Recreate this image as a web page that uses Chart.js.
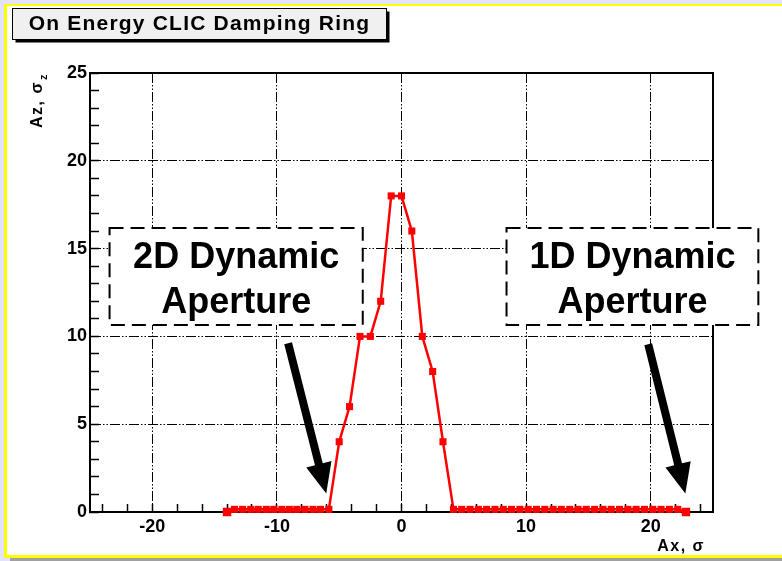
<!DOCTYPE html>
<html>
<head>
<meta charset="utf-8">
<title>On Energy CLIC Damping Ring</title>
<script src="https://cdn.jsdelivr.net/npm/chart.js@4/dist/chart.umd.min.js"></script>
<style>
  html, body { margin: 0; padding: 0; background: #ffffff; }
  #wrap { width: 782px; height: 561px; }
</style>
</head>
<body>
<div id="wrap"><canvas id="c" width="782" height="561"></canvas></div>
<script>
// Horizontal amplitude (Ax, in sigma) of each tracked particle
const axValues = [
  -14, -13.4, -12.75, -12.1, -11.5, -10.85, -10.25, -9.6, -9.0, -8.4, -7.75, -7.1, -6.5, -5.83,
  -5.0, -4.17, -3.33, -2.5, -1.67, -0.83, 0, 0.83, 1.67, 2.5, 3.33,
  4.17, 4.83, 5.5, 6.17, 6.83, 7.5, 8.17, 8.83, 9.5, 10.17, 10.83, 11.5, 12.17, 12.83,
  13.5, 14.17, 14.83, 15.5, 16.17, 16.83, 17.5, 18.17, 18.83, 19.5, 20.17, 20.83,
  21.5, 22.17, 22.83
];
// Surviving vertical amplitude (Az, in sigma_z) at each Ax
const azValues = [
  0, 0.15, 0.15, 0.15, 0.15, 0.15, 0.15, 0.15, 0.15, 0.15, 0.15, 0.15, 0.15, 0.15,
  4, 6, 10, 10, 12, 18, 18, 16, 10, 8, 4,
  0.15, 0.15, 0.15, 0.15, 0.15, 0.15, 0.15, 0.15, 0.15, 0.15, 0.15, 0.15, 0.15, 0.15,
  0.15, 0.15, 0.15, 0.15, 0.15, 0.15, 0.15, 0.15, 0.15, 0.15, 0.15, 0.15,
  0.15, 0.15, 0
];
// Axis ranges, labelled ticks and minor tick spacing
const xRange = [-25, 25];
const yRange = [0, 25];
const xTickLabels = [-20, -10, 0, 10, 20];
const yTickLabels = [0, 5, 10, 15, 20, 25];
const xMinorEvery = 2;
const yMinorEvery = 1;

const chartTitle = 'On Energy CLIC Damping Ring';
const xTitle = 'Ax, \u03c3';
const yTitle = 'Az, \u03c3';
const yTitleSub = 'z';

// Callout boxes and arrows, placed in data coordinates
const callouts = [
  { lines: ['2D Dynamic', 'Aperture'], box: [-23.43, 16.17, -3.11, 10.65], tail: [-9.1, 9.61], tip: [-6.04, 1.06] },
  { lines: ['1D Dynamic', 'Aperture'], box: [8.43, 16.17, 28.64, 10.65], tail: [19.8, 9.55], tip: [22.78, 1.06] }
];

const FONT = "'Liberation Sans', Arial, Helvetica, sans-serif";
const gridDash = [10, 2, 1.5, 2, 1.5, 2];

const points = axValues.map((x, i) => ({ x: x, y: azValues[i] }));
const lastIdx = points.length - 1;

// Canvas frame, title box and axis titles
const framePlugin = {
  id: 'frame',
  beforeDraw(chart) {
    const ctx = chart.ctx;
    ctx.save();
    ctx.fillStyle = '#e2e2fa';
    ctx.fillRect(0, 0, 782, 561);
    ctx.fillStyle = '#ffffff';
    ctx.fillRect(4, 4, 778, 553);
    ctx.fillStyle = '#ffff00';
    ctx.fillRect(4, 4, 778, 2);
    ctx.fillRect(4, 4, 3, 554);
    ctx.fillRect(4, 555, 778, 3);
    ctx.fillStyle = '#a0a0a0';
    ctx.fillRect(10, 558, 772, 3);
    ctx.restore();
  },
  afterDraw(chart) {
    const ctx = chart.ctx;
    ctx.save();
    // title box with shadow
    const bx = 12.5, by = 8.5, bw = 374, bh = 31;
    ctx.fillStyle = '#000000';
    ctx.fillRect(bx + 3, by + 3, bw, bh);
    ctx.fillStyle = '#f0f0f0';
    ctx.fillRect(bx, by, bw, bh);
    ctx.strokeStyle = '#000000';
    ctx.lineWidth = 1;
    ctx.strokeRect(bx, by, bw, bh);
    ctx.fillStyle = '#000000';
    ctx.font = 'bold 21px ' + FONT;
    ctx.textAlign = 'center';
    ctx.textBaseline = 'alphabetic';
    ctx.letterSpacing = '1.2px';
    ctx.fillText(chartTitle, bx + bw / 2, 29.5);

    // x axis title
    ctx.font = 'bold 16px ' + FONT;
    ctx.letterSpacing = '1.5px';
    ctx.textAlign = 'right';
    ctx.fillText(xTitle, 705, 551);

    // y axis title, rotated, with subscript
    ctx.save();
    ctx.translate(42, 128);
    ctx.rotate(-Math.PI / 2);
    ctx.textAlign = 'left';
    ctx.font = 'bold 16px ' + FONT;
    ctx.fillText(yTitle, 0, 0);
    const w = ctx.measureText(yTitle).width;
    ctx.font = 'bold 11px ' + FONT;
    ctx.fillText(yTitleSub, w + 1, 5);
    ctx.restore();
    ctx.letterSpacing = '0px';
    ctx.restore();
  }
};

// Dashed callout boxes with arrows pointing at the aperture edges
const calloutPlugin = {
  id: 'callouts',
  afterDraw(chart) {
    const ctx = chart.ctx;
    const xs = chart.scales.x, ys = chart.scales.y;
    ctx.save();
    callouts.forEach(c => {
      const x1 = xs.getPixelForValue(c.box[0]);
      const y1 = ys.getPixelForValue(c.box[1]);
      const x2 = xs.getPixelForValue(c.box[2]);
      const y2 = ys.getPixelForValue(c.box[3]);
      ctx.fillStyle = '#ffffff';
      ctx.fillRect(x1, y1, x2 - x1, y2 - y1);
      ctx.setLineDash([14, 7]);
      ctx.lineWidth = 2;
      ctx.strokeStyle = '#000000';
      ctx.strokeRect(x1, y1, x2 - x1, y2 - y1);
      ctx.setLineDash([]);
      ctx.fillStyle = '#000000';
      ctx.font = 'bold 36px ' + FONT;
      ctx.textAlign = 'center';
      ctx.textBaseline = 'alphabetic';
      const cx = (x1 + x2) / 2;
      ctx.fillText(c.lines[0], cx, y1 + 40);
      ctx.fillText(c.lines[1], cx, y1 + 85);

      // arrow
      const tx = xs.getPixelForValue(c.tail[0]), ty = ys.getPixelForValue(c.tail[1]);
      const hx = xs.getPixelForValue(c.tip[0]), hy = ys.getPixelForValue(c.tip[1]);
      const ang = Math.atan2(hy - ty, hx - tx);
      const len = Math.hypot(hx - tx, hy - ty);
      const headLen = 30, headHalf = 13, shaftHalf = 4;
      ctx.save();
      ctx.translate(tx, ty);
      ctx.rotate(ang);
      ctx.beginPath();
      ctx.moveTo(0, -shaftHalf);
      ctx.lineTo(len - headLen, -shaftHalf);
      ctx.lineTo(len - headLen, -headHalf);
      ctx.lineTo(len, 0);
      ctx.lineTo(len - headLen, headHalf);
      ctx.lineTo(len - headLen, shaftHalf);
      ctx.lineTo(0, shaftHalf);
      ctx.closePath();
      ctx.fill();
      ctx.restore();
    });
    ctx.restore();
  }
};

const isMinor = (v, every) => Math.abs(v % every) < 1e-9;
const tickMarkColor = every => ctx => (ctx.tick && isMinor(ctx.tick.value, every)) ? '#000000' : 'rgba(0,0,0,0)';

new Chart(document.getElementById('c'), {
  type: 'line',
  data: {
    datasets: [{
      data: points,
      borderColor: '#ff0000',
      backgroundColor: '#ff0000',
      borderWidth: 2.5,
      tension: 0,
      pointStyle: 'rect',
      pointRadius: points.map((p, i) => (i === 0 || i === lastIdx) ? 6 : 5),
      pointBorderWidth: 0,
      pointBackgroundColor: '#ff0000',
      clip: false
    }]
  },
  options: {
    responsive: false,
    animation: false,
    devicePixelRatio: 1,
    layout: { padding: { top: 73, right: 69, left: 0, bottom: 0 } },
    plugins: { legend: { display: false }, tooltip: { enabled: false }, title: { display: false } },
    scales: {
      x: {
        type: 'linear',
        position: 'bottom',
        min: xRange[0],
        max: xRange[1],
        afterFit(scale) { scale.height = 49; },
        ticks: {
          stepSize: 1,
          autoSkip: false,
          maxRotation: 0,
          padding: 12,
          color: '#000000',
          font: { family: FONT, size: 18, weight: 'bold' },
          callback: v => xTickLabels.includes(v) ? String(v) : ''
        },
        grid: {
          color: ctx => (ctx.tick && xTickLabels.includes(ctx.tick.value)) ? '#000000' : 'rgba(0,0,0,0)',
          lineWidth: 1,
          drawTicks: true,
          tickLength: -8,
          tickColor: tickMarkColor(xMinorEvery),
          tickWidth: 1.5,
          tickBorderDash: []
        },
        border: { display: true, color: '#000000', width: 2, dash: gridDash }
      },
      y: {
        type: 'linear',
        position: 'left',
        min: yRange[0],
        max: yRange[1],
        afterFit(scale) { scale.width = 90; },
        ticks: {
          stepSize: 1,
          autoSkip: false,
          padding: 12,
          color: '#000000',
          font: { family: FONT, size: 18, weight: 'bold' },
          callback: v => yTickLabels.includes(v) ? String(v) : ''
        },
        grid: {
          color: ctx => (ctx.tick && yTickLabels.includes(ctx.tick.value)) ? '#000000' : 'rgba(0,0,0,0)',
          lineWidth: 1,
          drawTicks: true,
          tickLength: -9,
          tickColor: tickMarkColor(yMinorEvery),
          tickWidth: 1.5,
          tickBorderDash: []
        },
        border: { display: true, color: '#000000', width: 2, dash: gridDash }
      },
      xTop: {
        type: 'linear',
        position: 'top',
        min: xRange[0],
        max: xRange[1],
        afterFit(scale) { scale.height = 0; },
        ticks: { display: false },
        grid: { display: false },
        border: { display: true, color: '#000000', width: 2 }
      },
      yRight: {
        type: 'linear',
        position: 'right',
        min: yRange[0],
        max: yRange[1],
        afterFit(scale) { scale.width = 0; },
        ticks: { display: false },
        grid: { display: false },
        border: { display: true, color: '#000000', width: 2 }
      }
    }
  },
  plugins: [framePlugin, calloutPlugin]
});
</script>
</body>
</html>
